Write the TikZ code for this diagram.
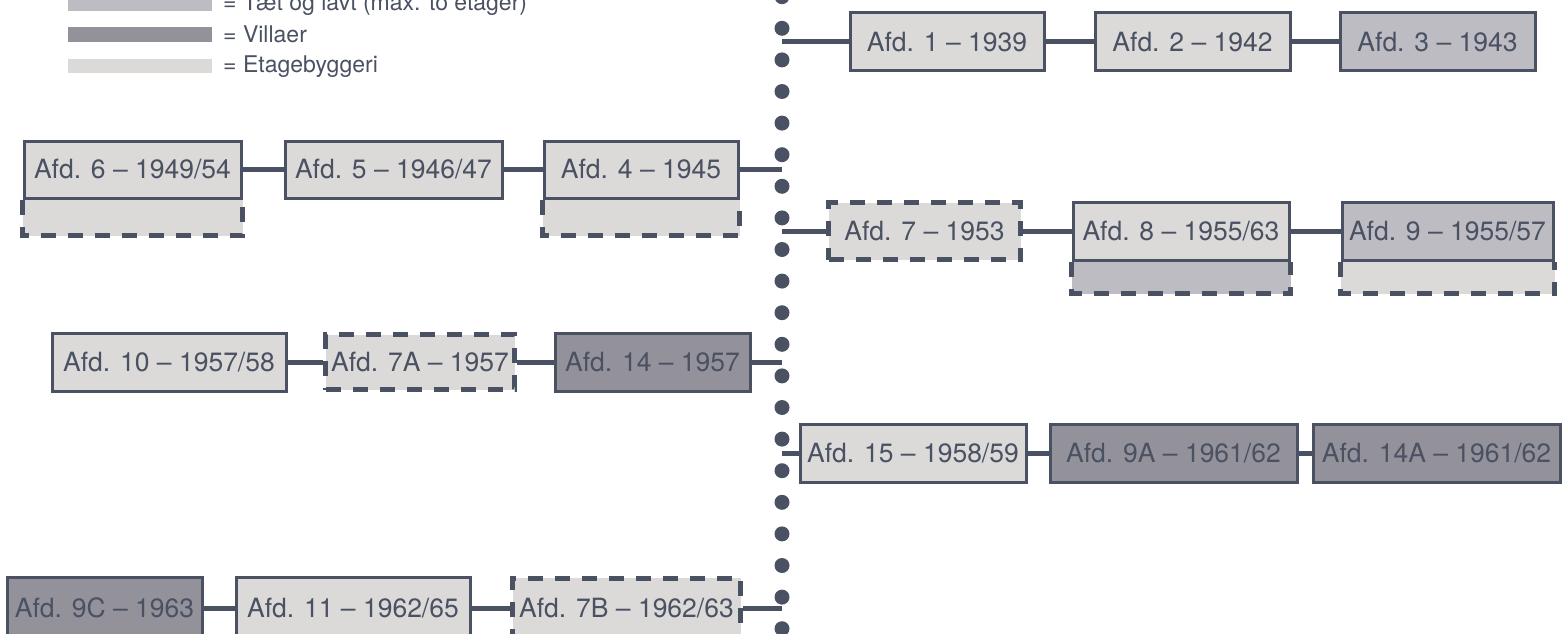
\documentclass[tikz,border=0pt]{standalone}
\usepackage{fontspec}
\setmainfont{TeX Gyre Heros}
\usetikzlibrary{backgrounds,calc}
\definecolor{ink}{HTML}{4A5162}
\definecolor{etage}{HTML}{DBDAD8}
\definecolor{taet}{HTML}{BDBCC2}
\definecolor{villa}{HTML}{93929B}
\tikzset{
  afd/.style={draw=ink, line width=3pt, text=ink, inner sep=0pt, minimum height=58pt,
    text height=18.7pt, text depth=0pt, font=\fontsize{26.5}{30}\selectfont},
  etagebox/.style={afd, fill=etage},
  taetbox/.style={afd, fill=taet},
  villabox/.style={afd, fill=villa},
  dashbox/.style={afd, fill=etage, line width=5pt, dash pattern=on 15pt off 12pt},
  ext/.style={draw=ink, line width=5pt, dash pattern=on 15pt off 12pt},
  conn/.style={draw=ink, line width=5pt},
  legtext/.style={text=ink, inner sep=0pt, anchor=base west, font=\fontsize{23}{27}\selectfont},
}
\begin{document}
\begin{tikzpicture}[x=1pt, y=-1pt]
\useasboundingbox (0,0) rectangle (1564,634);
\begin{pgfonlayer}{background}
\fill[white] (0,0) rectangle (1564,634);
\end{pgfonlayer}

% legend
\fill[taet] (68,-4) rectangle (212,11);
\fill[villa] (68,27) rectangle (212,42);
\fill[etage] (68,59) rectangle (212,73);
\node[legtext] (l1) at (223,11) {= Tæt og lavt (max. to etager)};
\node[legtext] (l2) at (223,43) {= Villaer};
\node[legtext] (l3) at (223,72.5) {= Etagebyggeri};

% dotted time line
\foreach \k in {0,...,20} {\fill[ink] (782,{-3.3+31.6*\k}) circle (7.5pt);}
\coordinate (s1) at (782,42);
\coordinate (s2) at (782,169.5);
\coordinate (s3) at (782,231);
\coordinate (s4) at (782,362);
\coordinate (s5) at (782,453.5);
\coordinate (s6) at (782,608);

% row 1
\node[etagebox, minimum width=194pt] (a1) at (947,42) {Afd. 1 – 1939};
\node[etagebox, minimum width=195pt] (a2) at (1192.5,42) {Afd. 2 – 1942};
\node[taetbox, minimum width=195pt] (a3) at (1437.5,42) {Afd. 3 – 1943};

% row 2
\node[etagebox, minimum width=217pt, minimum height=57pt] (a6) at (132.5,169.5) {Afd. 6 – 1949/54};
\node[etagebox, minimum width=217pt, minimum height=57pt] (a5) at (393.5,169.5) {Afd. 5 – 1946/47};
\node[etagebox, minimum width=194pt, minimum height=57pt] (a4) at (641,169.5) {Afd. 4 – 1945};

% row 3
\node[dashbox, minimum width=192pt, minimum height=57pt] (a7) at (924.5,231) {Afd. 7 – 1953};
\node[etagebox, minimum width=216pt] (a8) at (1181,231) {Afd. 8 – 1955/63};
\node[taetbox, minimum width=211pt] (a9) at (1447.5,231) {Afd. 9 – 1955/57};

% row 4
\node[etagebox, minimum width=234pt] (a10) at (169,362) {Afd. 10 – 1957/58};
\node[dashbox, minimum width=189pt, minimum height=55pt] (a7a) at (420,362) {Afd. 7A – 1957};
\node[villabox, minimum width=195pt] (a14) at (652.5,362) {Afd. 14 – 1957};

% row 5
\node[etagebox, minimum width=226pt] (a15) at (913,453.5) {Afd. 15 – 1958/59};
\node[villabox, minimum width=247pt] (a9a) at (1173.5,453.5) {Afd. 9A – 1961/62};
\node[villabox, minimum width=247pt] (a14a) at (1436.5,453.5) {Afd. 14A – 1961/62};

% row 6
\node[villabox, minimum width=195pt, minimum height=62pt] (a9c) at (104.5,608) {Afd. 9C – 1963};
\node[etagebox, minimum width=234pt, minimum height=62pt] (a11) at (353,608) {Afd. 11 – 1962/65};
\node[dashbox, minimum width=228pt, minimum height=60pt] (a7b) at (626.5,608) {Afd. 7B – 1962/63};

% extensions below boxes
\begin{pgfonlayer}{background}
\foreach \n/\h/\c in {a6/36/etage, a4/36/etage, a8/32/taet, a9/32/etage} {
  \fill[\c] (\n.south west) rectangle ($(\n.south east)+(0,\h)$);
  \draw[ext] (\n.south west) -- ++(0,\h) -| (\n.south east);
}
\end{pgfonlayer}

% connectors
\draw[conn] (s1) -- (a1.west);
\draw[conn] (a1) -- (a2);
\draw[conn] (a2) -- (a3);
\draw[conn] (a6) -- (a5);
\draw[conn] (a5) -- (a4);
\draw[conn] (a4.east) -- (s2);
\draw[conn] (s3) -- (a7.west);
\draw[conn] (a7) -- (a8);
\draw[conn] (a8) -- (a9);
\draw[conn] (a10) -- (a7a);
\draw[conn] (a7a) -- (a14);
\draw[conn] (a14.east) -- (s4);
\draw[conn] (s5) -- (a15.west);
\draw[conn] (a15) -- (a9a);
\draw[conn] (a9a) -- (a14a);
\draw[conn] (a9c) -- (a11);
\draw[conn] (a11) -- (a7b);
\draw[conn] (a7b.east) -- (s6);
\end{tikzpicture}
\end{document}
